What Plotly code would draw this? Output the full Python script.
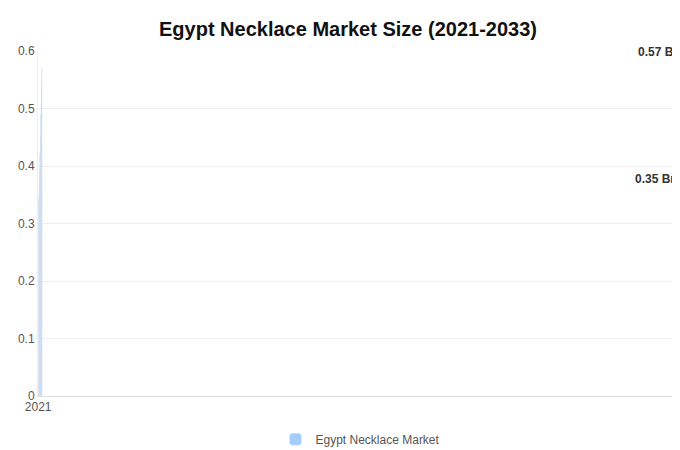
import plotly.graph_objects as go

years = [str(y) for y in range(2021, 2034)]
values = [0.29, 0.32, 0.34, 0.35, 0.36, 0.39, 0.42, 0.43, 0.45, 0.49, 0.51, 0.54, 0.57]
colors = ["#a3cdfd"] * 3 + ["#000000"] + ["#0066ff"] * 9
labels = {"2024": "0.35 Bn", "2033": "0.57 Bn"}

fig = go.Figure(go.Bar(
    x=years, y=values, marker=dict(color=colors, cornerradius=18),
    name="Egypt Necklace Market", showlegend=True,
))

for yr, txt in labels.items():
    fig.add_annotation(x=yr, y=values[years.index(yr)], text="<b>" + txt + "</b>",
                       showarrow=False, yshift=16, font=dict(size=12, color="#333"))

fig.update_layout(
    width=680, height=450, plot_bgcolor="white", paper_bgcolor="white",
    font=dict(family="Arial, Liberation Sans", color="#555", size=12),
    title=dict(text="<b>Egypt Necklace Market Size (2021-2033)</b>", x=0.5, y=0.97,
               font=dict(size=20, color="#111")),
    margin=dict(l=30, r=5, t=43, b=61),
    xaxis=dict(type="category", showline=True, linecolor="#ddd", ticks=""),
    yaxis=dict(range=[0, 0.6], dtick=0.1, gridcolor="#eee", zeroline=False,
               showline=True, linecolor="#eee", tickformat="~g"),
    legend=dict(orientation="h", x=0.5, xanchor="center", y=-0.08, yanchor="top"),
    bargap=0.28,
)
fig.write_html("out.html")
